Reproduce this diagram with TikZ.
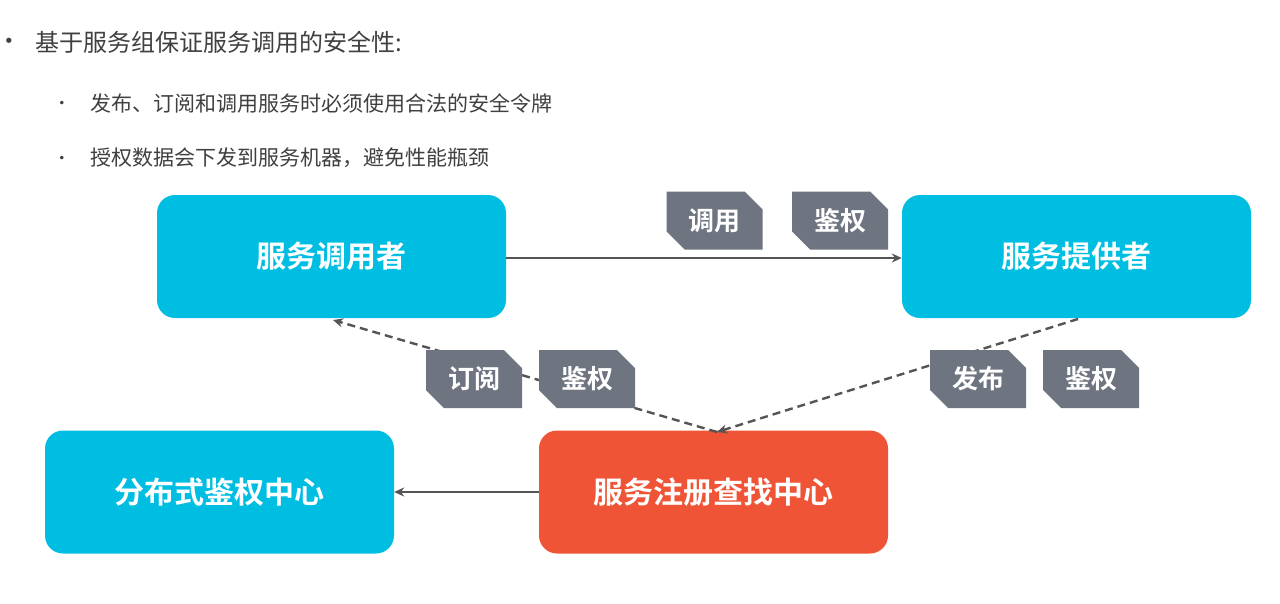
\documentclass[tikz,border=0pt]{standalone}
\usepackage{fontspec}
\setmainfont{Noto Sans CJK SC}[BoldFont={Noto Sans CJK SC Bold}]
\newfontfamily\bulletfont{DejaVu Sans}
\usetikzlibrary{shapes.misc,arrows.meta}
\definecolor{cyanbox}{RGB}{0,190,226}
\definecolor{redbox}{RGB}{239,84,54}
\definecolor{tagg}{RGB}{110,116,128}
\definecolor{linec}{RGB}{85,85,85}
\definecolor{txt}{RGB}{64,64,64}
\tikzset{
  bigbox/.style={rounded corners=18pt, minimum width=349pt, minimum height=123pt, inner sep=0pt,
    text=white, font=\fontsize{30}{36}\selectfont\bfseries},
  tagbox/.style={chamfered rectangle, chamfered rectangle corners={north east,south west},
    chamfered rectangle xsep=9pt, chamfered rectangle ysep=9pt,
    fill=tagg, text=white, minimum width=96pt, minimum height=58pt, inner sep=0pt,
    font=\fontsize{26}{30}\selectfont\bfseries},
  solidarr/.style={draw=linec, line width=2.2pt, -{Stealth[length=10pt,width=9pt]}},
  dasharr/.style={draw=linec, line width=2.4pt, dash pattern=on 8pt off 5pt, -{Stealth[length=10pt,width=9pt]}},
  head/.style={anchor=west, text=txt, font=\fontsize{24}{28}\selectfont},
  sub/.style={anchor=west, text=txt, font=\fontsize{21}{25}\selectfont},
  bul/.style={text=txt, inner sep=0pt},
}
\begin{document}
\begin{tikzpicture}[x=1pt,y=-1pt]
\useasboundingbox[fill=white] (0,0) rectangle (1280,603);
% text
\node[bul, font=\bulletfont\fontsize{18}{20}\selectfont] (b0) at (9,43) {•};
\node[head] (t0) at (32,42) {基于服务组保证服务调用的安全性:};
\node[bul, font=\bulletfont\fontsize{12}{14}\selectfont] (b1) at (62,104) {•};
\node[sub] (t1) at (87,103) {发布、订阅和调用服务时必须使用合法的安全令牌};
\node[bul, font=\bulletfont\fontsize{12}{14}\selectfont] (b2) at (62,159) {•};
\node[sub] (t2) at (87,158) {授权数据会下发到服务机器，避免性能瓶颈};
% boxes
\node[bigbox, fill=cyanbox] (consumer) at (331.5,256.5) {服务调用者};
\node[bigbox, fill=cyanbox] (provider) at (1076.5,256.5) {服务提供者};
\node[bigbox, fill=cyanbox] (auth) at (219.5,492) {分布式鉴权中心};
\node[bigbox, fill=redbox] (registry) at (713.5,492) {服务注册查找中心};
% connectors
\draw[solidarr] (consumer.east |- 0,258) -- (provider.west |- 0,258);
\draw[solidarr] (registry.west) -- (auth.east);
\coordinate (rtop) at (717,432);
\coordinate (ctop) at (333,320);
\coordinate (ptop) at (1078,319);
\draw[dasharr] (rtop) -- (ctop);
\draw[dasharr] (ptop) -- (rtop);
% tags
\node[tagbox] (tcall) at (714.5,220.5) {调用};
\node[tagbox] (tauth1) at (840,220.5) {鉴权};
\node[tagbox] (tsub) at (474,379) {订阅};
\node[tagbox] (tauth2) at (587,379) {鉴权};
\node[tagbox] (tpub) at (978,379) {发布};
\node[tagbox] (tauth3) at (1091,379) {鉴权};
\end{tikzpicture}
\end{document}
